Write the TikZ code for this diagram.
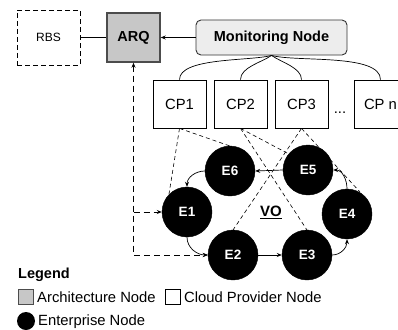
\documentclass[tikz,border=0pt]{standalone}
\usepackage{fontspec}
\setmainfont{Liberation Sans}
\usetikzlibrary{arrows.meta}
\begin{document}
\begin{tikzpicture}[x=1pt,y=-1pt,
  font=\fontsize{14.8}{16}\selectfont,
  tip/.style={-{Stealth[length=5pt,width=4pt]}},
  cpbox/.style={draw, line width=0.8pt, minimum width=53pt, minimum height=48pt, inner sep=0pt},
  ent/.style={circle, fill=black, draw=black, minimum size=50pt, inner sep=0pt,
    text=white, font=\fontsize{13.5}{15}\selectfont\bfseries},
  link/.style={line width=0.6pt, dash pattern=on 4pt off 3pt},
  flow/.style={line width=0.7pt, tip},
  feed/.style={line width=0.9pt, dash pattern=on 6pt off 4pt},
  lbl/.style={anchor=base west, inner sep=0pt}]
\useasboundingbox (0,0) rectangle (398,329);
\clip (0,0) rectangle (398,329);

% top row: rbs, arq and the monitoring node
\node[draw, line width=0.8pt, dash pattern=on 5pt off 3pt, minimum width=63pt, minimum height=55pt,
  font=\fontsize{12}{14}\selectfont] (rbs) at (48.5,37.5) {RBS};
\node[draw=black!70, fill=black!22, line width=1.4pt, minimum width=53pt, minimum height=49pt,
  font=\fontsize{14.5}{16}\selectfont\bfseries] (arq) at (133.5,37.5) {ARQ};
\node[draw=black!80, fill=black!7, rounded corners=5pt, line width=0.9pt, minimum width=151pt,
  minimum height=35pt, font=\fontsize{14.5}{16}\selectfont\bfseries] (mon) at (271.5,37.5) {Monitoring Node};
\draw[line width=0.8pt] (rbs.east) -- (arq.west);
\draw[flow] (mon.west) -- (arq.east);

% cloud providers
\node[cpbox] (cp1) at (179.5,104) {CP1};
\node[cpbox] (cp2) at (240.5,104) {CP2};
\node[cpbox] (cp3) at (301.5,104) {CP3};
\node[cpbox] (cpn) at (380.5,104) {CP n};
\node[inner sep=0pt] (dots) at (340,113) {...};
\draw[line width=0.7pt] (mon.south) to[out=195, in=90, looseness=0.6] (cp1.north);
\draw[line width=0.7pt] (mon.south) to[out=215, in=90, looseness=0.8] (cp2.north);
\draw[line width=0.7pt] (mon.south) to[out=325, in=90, looseness=0.8] (cp3.north);
\draw[line width=0.7pt] (mon.south) to[out=-15, in=90, looseness=0.6] (cpn.north);

% dashed links from providers to enterprises, behind the circles
\draw[link] (cp1.south) -- (169,194);
\draw[link] (cp1.south) -- (230,146);
\draw[link] (cp2.south) -- (287,153);
\draw[link] (cp2.south) -- (307,230);
\draw[link] (cp3.south) -- (233,230);
\draw[link] (cp3.south) -- (360,192);

% enterprise nodes of the virtual organisation
\node[ent] (e1) at (187,212) {E1};
\node[ent] (e2) at (233,255) {E2};
\node[ent] (e3) at (307,255) {E3};
\node[ent] (e4) at (347,214) {E4};
\node[ent] (e5) at (308,170) {E5};
\node[ent] (e6) at (230,171) {E6};
\node[font=\fontsize{15}{17}\selectfont\bfseries] (vo) at (271,212) {\underline{VO}};

\draw[flow] (e1.south) to[out=-90, in=180] (e2.west);
\draw[flow] (e2.east) -- (e3.west);
\draw[flow] (e3.east) to[out=0, in=-90] (e4.south);
\draw[flow] (e4.north) to[out=90, in=0] (e5.east);
\draw[flow] (e5.west) -- (e6.east);
\draw[flow] (e6.west) to[out=180, in=90] (e1.north);

% feedback from the enterprises to the arq
\draw[feed, {Stealth[length=5pt,width=4pt]}-{Stealth[length=5pt,width=4pt]}] (arq.south) |- (e2.west);
\draw[feed, tip] (arq.south |- e1.west) -- (e1.west);

% legend
\node[lbl, font=\fontsize{14.5}{16}\selectfont\bfseries] (leg) at (18,278) {Legend};
\node[draw=black!70, fill=black!22, line width=0.8pt, minimum size=15pt, inner sep=0pt] (ka) at (25.5,296.5) {};
\node[lbl] (ta) at (37,302) {Architecture Node};
\node[draw, line width=0.8pt, minimum size=15pt, inner sep=0pt] (kc) at (173,296.5) {};
\node[lbl] (tc) at (184,302) {Cloud Provider Node};
\node[circle, fill=black, minimum size=18pt, inner sep=0pt] (ke) at (26,321) {};
\node[lbl] (te) at (38,325) {Enterprise Node};
\end{tikzpicture}
\end{document}
